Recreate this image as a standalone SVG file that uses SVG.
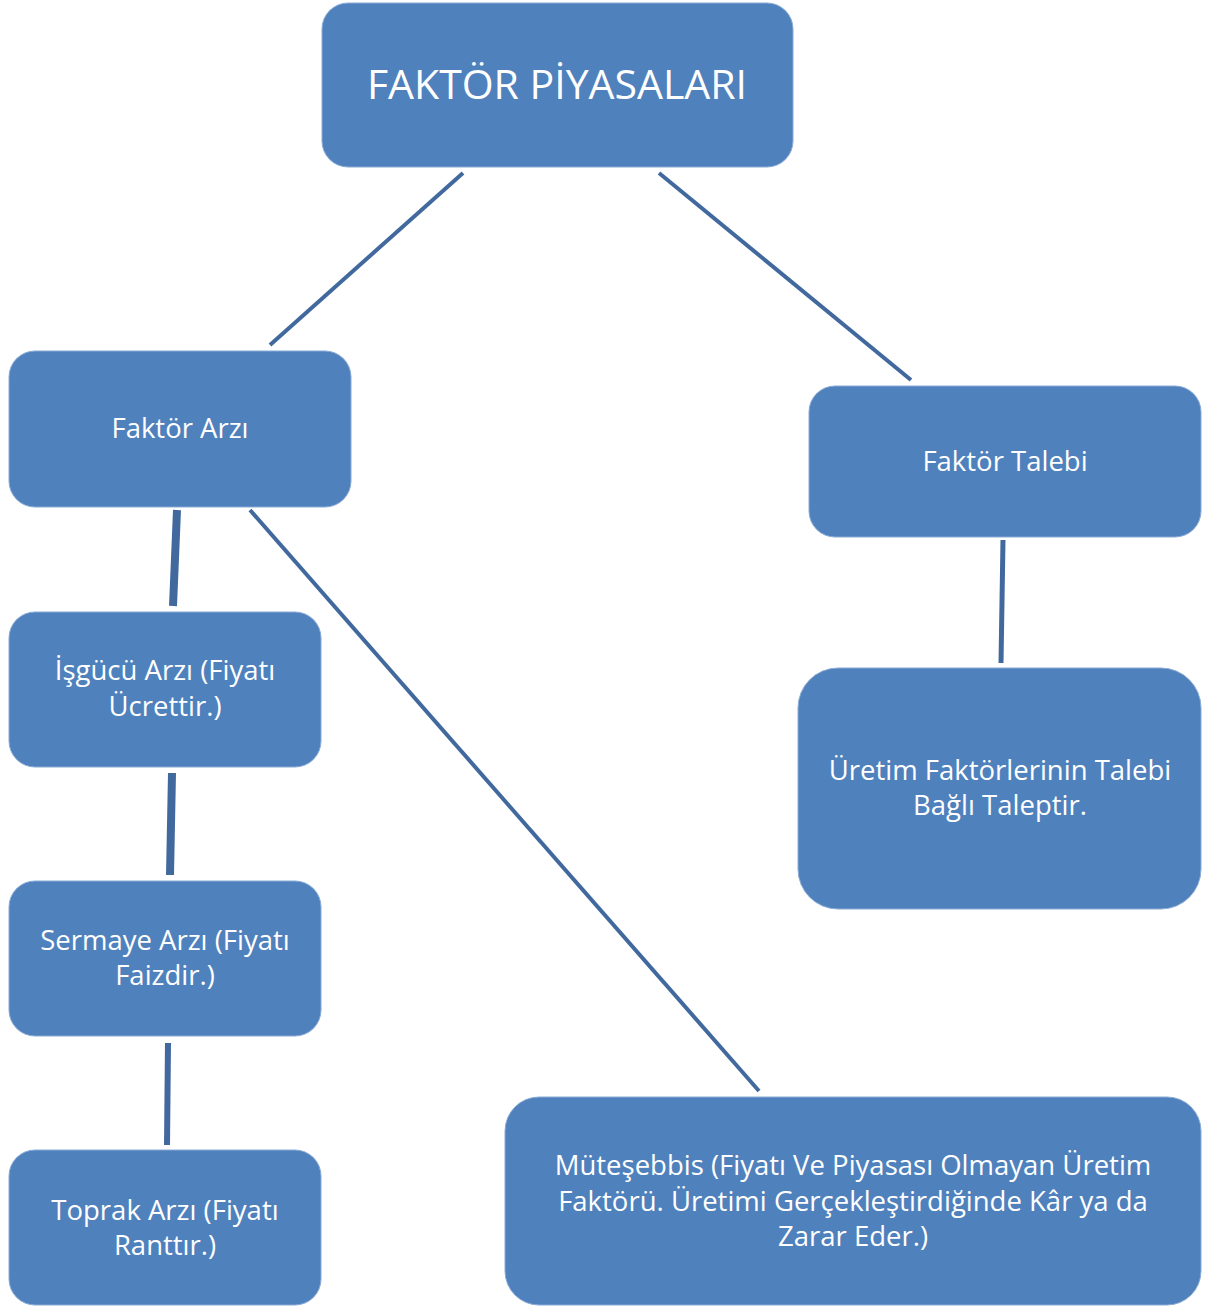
<svg xmlns="http://www.w3.org/2000/svg" width="1221" height="1307" viewBox="0 0 1221 1307">
<style>
.box{fill:#4F81BD;stroke:#8AABD6;stroke-width:1}
.t{font-family:"Open Sans","Noto Sans",sans-serif;fill:#FFFFFF;text-anchor:middle;font-size:27.5px}
.big{font-size:41px}
.c{stroke:#41699E;fill:none;stroke-linecap:butt}
</style>
<rect width="1221" height="1307" fill="#FFFFFF"/>
<g id="connectors">
<line class="c" x1="463" y1="173" x2="270" y2="345" stroke-width="4"/>
<line class="c" x1="659" y1="173" x2="911" y2="380" stroke-width="4"/>
<line class="c" x1="177" y1="510" x2="173" y2="606" stroke-width="8"/>
<line class="c" x1="250" y1="510" x2="759" y2="1091" stroke-width="4"/>
<line class="c" x1="172" y1="773" x2="170" y2="875" stroke-width="8"/>
<line class="c" x1="1003" y1="540" x2="1001" y2="663" stroke-width="5"/>
<line class="c" x1="168" y1="1043" x2="167" y2="1145" stroke-width="6"/>
</g>
<g id="faktor-piyasalari">
<rect class="box" x="322" y="3" width="471" height="164" rx="26"/>
<text class="t big" x="557" y="99">FAKTÖR PİYASALARI</text>
</g>
<g id="faktor-arzi">
<rect class="box" x="9" y="351" width="342" height="156" rx="26"/>
<text class="t" x="180" y="438">Faktör Arzı</text>
</g>
<g id="faktor-talebi">
<rect class="box" x="809" y="386" width="392" height="151" rx="26"/>
<text class="t" x="1005" y="471">Faktör Talebi</text>
</g>
<g id="isgucu-arzi">
<rect class="box" x="9" y="612" width="312" height="155" rx="26"/>
<text class="t" x="165" y="680">İşgücü Arzı (Fiyatı</text>
<text class="t" x="165" y="716">Ücrettir.)</text>
</g>
<g id="sermaye-arzi">
<rect class="box" x="9" y="881" width="312" height="155" rx="26"/>
<text class="t" x="165" y="950">Sermaye Arzı (Fiyatı</text>
<text class="t" x="165" y="985">Faizdir.)</text>
</g>
<g id="toprak-arzi">
<rect class="box" x="9" y="1150" width="312" height="155" rx="26"/>
<text class="t" x="165" y="1220">Toprak Arzı (Fiyatı</text>
<text class="t" x="165" y="1255">Ranttır.)</text>
</g>
<g id="uretim-faktorleri">
<rect class="box" x="798" y="668" width="403" height="241" rx="40"/>
<text class="t" x="1000" y="780">Üretim Faktörlerinin Talebi</text>
<text class="t" x="1000" y="815">Bağlı Taleptir.</text>
</g>
<g id="muteşebbis">
<rect class="box" x="505" y="1097" width="696" height="208" rx="34"/>
<text class="t" x="853" y="1175">Müteşebbis (Fiyatı Ve Piyasası Olmayan Üretim</text>
<text class="t" x="853" y="1211">Faktörü. Üretimi Gerçekleştirdiğinde Kâr ya da</text>
<text class="t" x="853" y="1246">Zarar Eder.)</text>
</g>
</svg>
